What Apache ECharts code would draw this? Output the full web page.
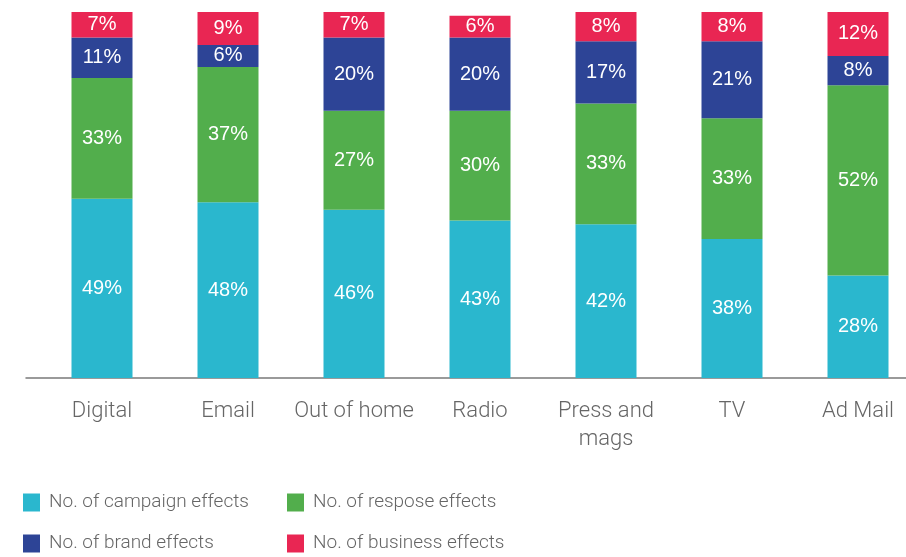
<!DOCTYPE html>
<html>
<head>
<meta charset="utf-8">
<script src="https://cdn.jsdelivr.net/npm/echarts@6/dist/echarts.min.js"></script>
<style>
  html, body { margin: 0; padding: 0; background: #fff; overflow: hidden; }
  #chart { width: 930px; height: 557px; }
</style>
</head>
<body>
<div id="chart"></div>
<script>
// Share of effects by channel (percent)
const channels = ['Digital', 'Email', 'Out of home', 'Radio', 'Press and\nmags', 'TV', 'Ad Mail'];
const campaignEffects = [49, 48, 46, 43, 42, 38, 28];
const responseEffects = [33, 37, 27, 30, 33, 33, 52];
const brandEffects    = [11, 6, 20, 20, 17, 21, 8];
const businessEffects = [7, 9, 7, 6, 8, 8, 12];

const seriesNames = ['No. of campaign effects', 'No. of respose effects', 'No. of brand effects', 'No. of business effects'];
const seriesColors = ['#2AB7CE', '#52AE4C', '#2D4496', '#E92653'];
const seriesValues = [campaignEffects, responseEffects, brandEffects, businessEffects];

const FONT = 'Roboto';

// The drawing surface is a little wider than the window so the last
// category band can run past the right edge.
const chart = echarts.init(document.getElementById('chart'), null, { renderer: 'canvas' });

const legendPos = [
  { left: 23, top: 493 },
  { left: 287, top: 493 },
  { left: 23, top: 534 },
  { left: 287, top: 534 }
];

chart.setOption({
  animation: false,
  backgroundColor: '#fff',
  grid: [
    { left: 39, right: 9, top: 12, bottom: 179 },
    { left: 26, right: 0, top: 12, bottom: 179 }
  ],
  legend: seriesNames.map((name, i) => ({
    data: [name],
    left: legendPos[i].left,
    top: legendPos[i].top,
    padding: 0,
    itemWidth: 17,
    itemHeight: 18,
    itemGap: 0,
    icon: 'rect',
    selectedMode: false,
    textStyle: { color: '#666', fontSize: 19, fontFamily: FONT, fontWeight: 300, padding: [0, 0, 0, 4] }
  })),
  xAxis: [
    {
      type: 'category',
      gridIndex: 0,
      data: channels,
      axisLine: { show: false },
      axisTick: { show: false },
      axisLabel: {
        color: '#666',
        fontSize: 22,
        fontFamily: FONT,
        fontWeight: 300,
        margin: 19,
        lineHeight: 28,
        interval: 0
      }
    },
    {
      // full-width baseline
      type: 'value',
      gridIndex: 1,
      min: 0,
      max: 1,
      axisLine: { show: true, lineStyle: { color: '#7a7a7a', width: 1.5 } },
      axisTick: { show: false },
      axisLabel: { show: false },
      splitLine: { show: false }
    }
  ],
  yAxis: [
    { type: 'value', gridIndex: 0, min: 0, max: 100, show: false },
    { type: 'value', gridIndex: 1, min: 0, max: 100, show: false }
  ],
  series: seriesNames.map((name, i) => ({
    name: name,
    type: 'bar',
    stack: 'total',
    xAxisIndex: 0,
    yAxisIndex: 0,
    barWidth: 61,
    itemStyle: { color: seriesColors[i] },
    label: {
      show: true,
      position: 'inside',
      color: '#fff',
      fontSize: 20,
      fontFamily: 'Liberation Sans',
      fontWeight: 'normal',
      formatter: p => p.value + '%'
    },
    data: seriesValues[i]
  }))
});
</script>
</body>
</html>
